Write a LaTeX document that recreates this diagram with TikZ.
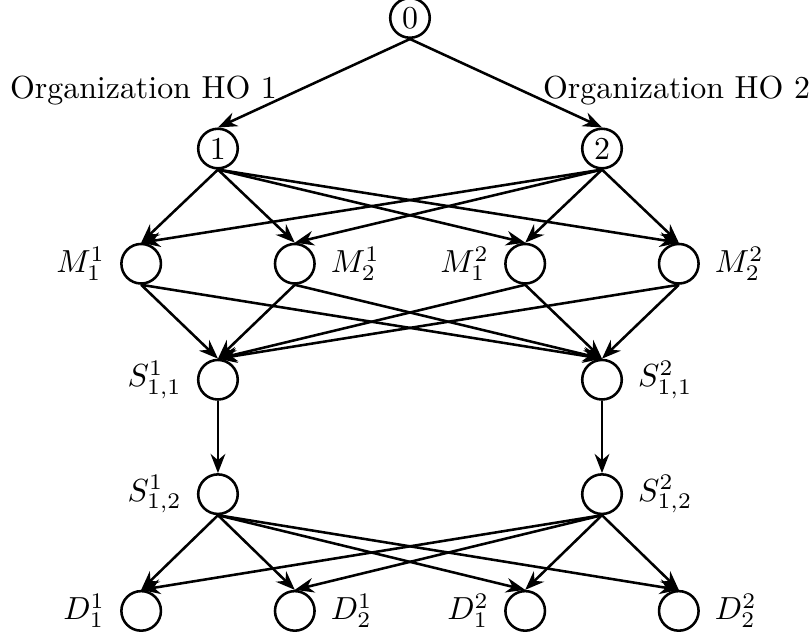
\documentclass[tikz,border=0pt]{standalone}
\usetikzlibrary{arrows.meta}

\begin{document}
\begin{tikzpicture}[>={Stealth[length=6pt,width=4.6pt]},thick,line join=round,
  x=0.846cm,y=0.846cm,
  vtx/.style={draw,circle,inner sep=0pt,minimum size=12.4pt},
  lft/.style={label={[label distance=1pt]left:#1}},
  rgt/.style={label={[label distance=1pt]right:#1}}]

  \useasboundingbox (-5.338,0.234) rectangle (5.234,-8.046);

  % ---- root and the two organizations ------------------------------
  \node[vtx] (r)  at (0,0)      {0};
  \node[vtx] (o1) at (-2.5,-1.7) {1};
  \node[vtx] (o2) at (2.5,-1.7)  {2};
  \node (h1) at (-3.47,-0.94) {Organization HO 1};
  \node (h2) at (3.47,-0.94)  {Organization HO 2};

  % ---- M layer ------------------------------------------------------
  \node[vtx,lft={$M_1^1$}] (m11) at (-3.5,-3.2) {};
  \node[vtx,rgt={$M_2^1$}] (m21) at (-1.5,-3.2) {};
  \node[vtx,lft={$M_1^2$}] (m12) at (1.5,-3.2)  {};
  \node[vtx,rgt={$M_2^2$}] (m22) at (3.5,-3.2)  {};

  % ---- S layers -----------------------------------------------------
  \node[vtx,lft={$S_{1,1}^1$}] (s11) at (-2.5,-4.71) {};
  \node[vtx,rgt={$S_{1,1}^2$}] (s21) at (2.5,-4.71)  {};
  \node[vtx,lft={$S_{1,2}^1$}] (s12) at (-2.5,-6.2)  {};
  \node[vtx,rgt={$S_{1,2}^2$}] (s22) at (2.5,-6.2)   {};

  % ---- D layer ------------------------------------------------------
  \node[vtx,lft={$D_1^1$}] (d11) at (-3.5,-7.72) {};
  \node[vtx,rgt={$D_2^1$}] (d21) at (-1.5,-7.72) {};
  \node[vtx,lft={$D_1^2$}] (d12) at (1.5,-7.72)  {};
  \node[vtx,rgt={$D_2^2$}] (d22) at (3.5,-7.72)  {};

  % ---- edges --------------------------------------------------------
  \draw[->] (r.south) -- (o1.north);
  \draw[->] (r.south) -- (o2.north);
  \foreach \o in {o1,o2}
    \foreach \m in {m11,m21,m12,m22}
      \draw[->] (\o.south) -- (\m.north);
  \foreach \m in {m11,m21,m12,m22}
    \foreach \s in {s11,s21}
      \draw[->] (\m.south) -- (\s.north);
  \draw[->] (s11.south) -- (s12.north);
  \draw[->] (s21.south) -- (s22.north);
  \foreach \s in {s12,s22}
    \foreach \d in {d11,d21,d12,d22}
      \draw[->] (\s.south) -- (\d.north);

\end{tikzpicture}
\end{document}
